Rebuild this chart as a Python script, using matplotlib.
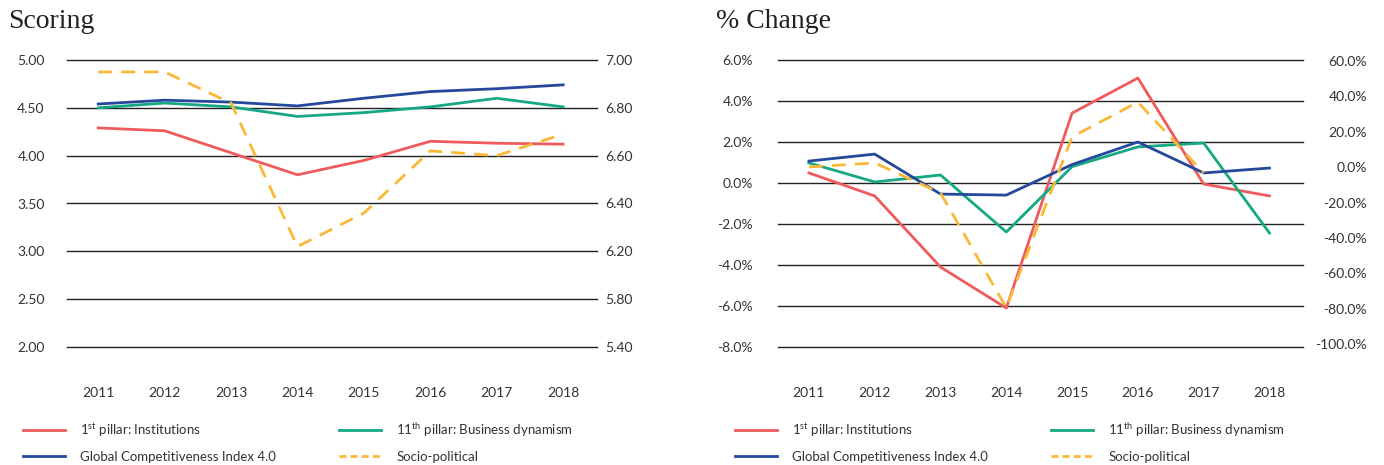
import matplotlib.pyplot as plt
from matplotlib.lines import Line2D
import numpy as np

years = ['2011', '2012', '2013', '2014', '2015', '2016', '2017', '2018']

# Scoring (left axis except socio-political on right axis)
score_inst = [4.29, 4.26, 4.03, 3.80, 3.95, 4.15, 4.13, 4.12]
score_busi = [4.50, 4.55, 4.51, 4.41, 4.45, 4.51, 4.60, 4.51]
score_gci = [4.54, 4.58, 4.56, 4.52, 4.60, 4.67, 4.70, 4.74]
score_socio = [6.95, 6.95, 6.82, 6.22, 6.36, 6.62, 6.60, 6.69]
score_left_ticks = [2.0, 2.5, 3.0, 3.5, 4.0, 4.5, 5.0]
score_right_ticks = [5.8, 6.0, 6.2, 6.4, 6.6, 6.8, 7.0]
score_right_labels = ['5.40', '5.80', '6.20', '6.40', '6.60', '6.80', '7.00']

# % change (left axis except socio-political on right axis)
chg_inst = [0.49, -0.63, -4.1, -6.1, 3.41, 5.12, -0.05, -0.63]
chg_busi = [0.98, 0.05, 0.39, -2.39, 0.80, 1.76, 1.95, -2.44]
chg_gci = [1.07, 1.41, -0.54, -0.59, 0.90, 2.0, 0.49, 0.73]
chg_socio = [0.1, 2.4, -14.6, -79.5, 17.1, 36.8, -3.3, np.nan]
chg_left_ticks = [-8, -6, -4, -2, 0, 2, 4, 6]
chg_right_ticks = [-100, -80, -60, -40, -20, 0, 20, 40, 60]

RED = '#EF5B5B'
GREEN = '#14A883'
BLUE = '#24489B'
YELLOW = '#FBB836'
TXT = '#333333'

plt.rcParams['font.family'] = ['Lato', 'DejaVu Sans']
plt.rcParams['mathtext.default'] = 'regular'

W, H = 1384, 465
fig = plt.figure(figsize=(W / 100, H / 100), dpi=100)
x = np.arange(len(years))
lw = 2.0
dash = (0, (5, 3.3))


def setup(ax, axr):
    for a in (ax, axr):
        for s in a.spines.values():
            s.set_visible(False)
        a.tick_params(length=0, labelsize=10, colors=TXT)
    ax.set_xlim(-0.47, 7.51)
    ax.set_xticks(x)
    ax.set_xticklabels(years)
    ax.tick_params(axis='x', pad=29)
    ax.grid(axis='y', color='#222222', lw=1)
    for g in ax.get_ygridlines():
        g.set_clip_on(False)
    ax.set_axisbelow(True)


# left panel
ax1 = fig.add_axes([67 / W, 1 - 347 / H, 530 / W, 287 / H])
ax1r = ax1.twinx()
ax1.set_ylim(2.0, 5.0)
ax1.set_yticks(score_left_ticks)
ax1.set_yticklabels(['%.2f' % v for v in score_left_ticks])
setup(ax1, ax1r)
ax1.tick_params(axis='y', pad=16)
ax1r.set_ylim(5.8, 7.0)
ax1r.set_yticks(score_right_ticks)
ax1r.set_yticklabels(score_right_labels)
ax1r.tick_params(axis='y', pad=6)
ax1.plot(x, score_inst, color=RED, lw=lw)
ax1.plot(x, score_busi, color=GREEN, lw=lw)
ax1.plot(x, score_gci, color=BLUE, lw=lw)
ax1r.plot(x, score_socio, color=YELLOW, lw=lw, ls=dash)

# right panel
ax2 = fig.add_axes([778 / W, 1 - 347 / H, 525 / W, 287 / H])
ax2r = ax2.twinx()
ax2.set_ylim(-8, 6)
ax2.set_yticks(chg_left_ticks)
ax2.set_yticklabels(['%.1f%%' % v for v in chg_left_ticks])
setup(ax2, ax2r)
ax2.tick_params(axis='y', pad=18)
ax2r.set_ylim(-101.7, 60.6)
ax2r.set_yticks(chg_right_ticks)
ax2r.set_yticklabels(['%.1f%%' % v for v in chg_right_ticks])
ax2r.tick_params(axis='y', pad=46)
for t in ax2r.get_yticklabels():
    t.set_ha('right')
ax2.plot(x, chg_inst, color=RED, lw=lw)
ax2.plot(x, chg_busi, color=GREEN, lw=lw)
ax2.plot(x, chg_gci, color=BLUE, lw=lw)
ax2r.plot(x, chg_socio, color=YELLOW, lw=lw, ls=dash)

# titles
fig.text(8 / W, 1 - 28 / H, 'Scoring', family='Liberation Serif', fontsize=20,
         color='#222222', va='baseline')
fig.text(716 / W, 1 - 28 / H, '% Change', family='Liberation Serif', fontsize=20,
         color='#222222', va='baseline')

# legends
handles = [Line2D([], [], color=RED, lw=lw),
           Line2D([], [], color=BLUE, lw=lw),
           Line2D([], [], color=GREEN, lw=lw),
           Line2D([], [], color=YELLOW, lw=lw, ls=(0, (2.5, 1.5)))]
labels = ['1$^{st}$ pillar: Institutions', 'Global Competitiveness Index 4.0',
          '11$^{th}$ pillar: Business dynamism', 'Socio-political']
for lx in (23, 735):
    fig.legend(handles, labels, loc='upper left', bbox_to_anchor=(lx / W, 1 - 421 / H),
               ncol=2, frameon=False, fontsize=9.5, borderpad=0, borderaxespad=0,
               handlelength=3.15, handletextpad=1.2, columnspacing=4.75,
               labelspacing=0.9, labelcolor=TXT)

fig.savefig('out.png', dpi=100)
